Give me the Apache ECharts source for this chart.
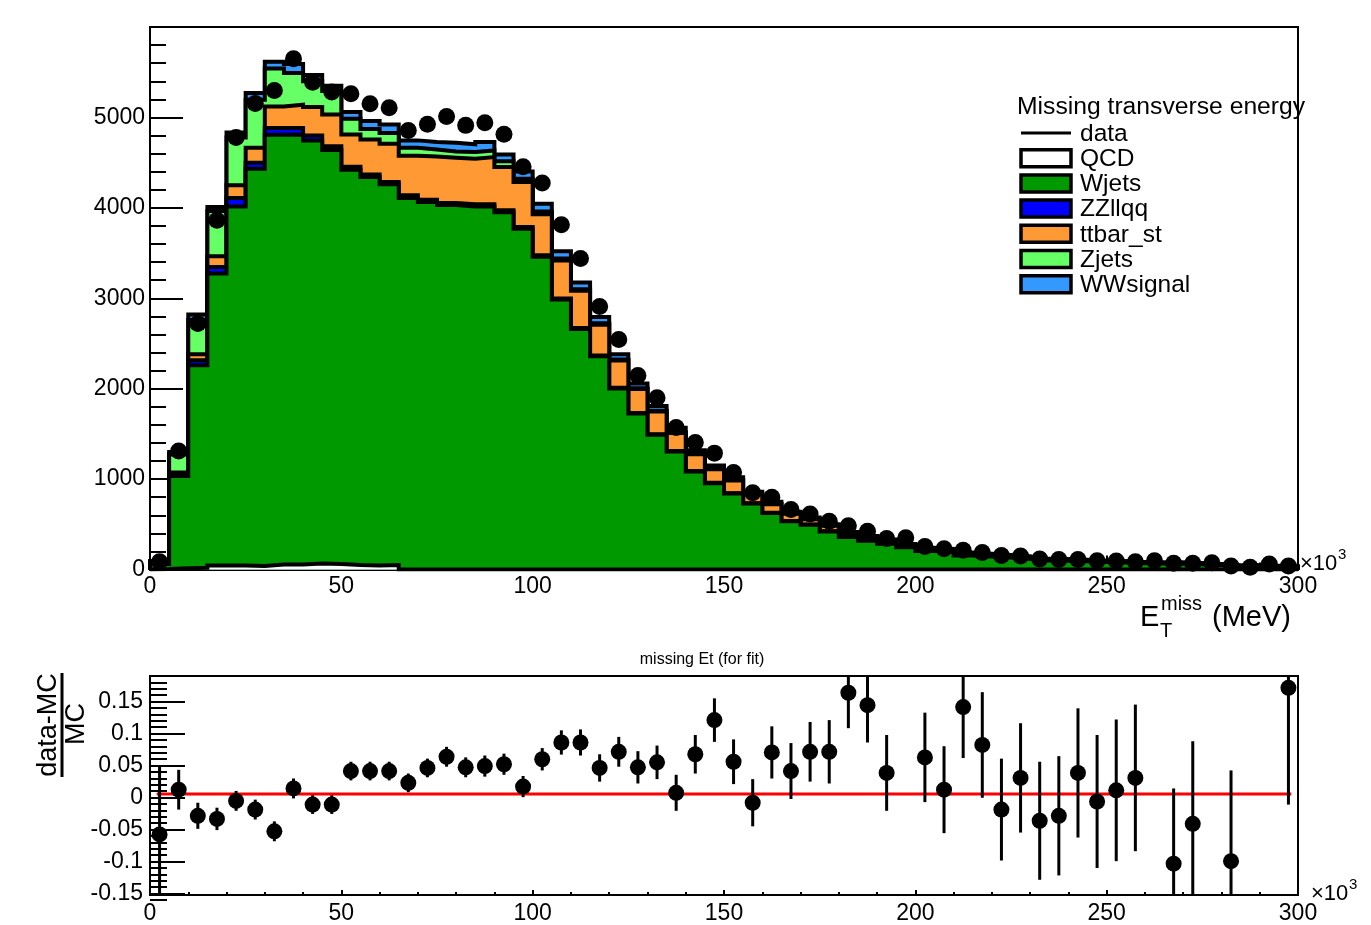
<!DOCTYPE html>
<html><head><meta charset="utf-8">
<script src="https://cdn.jsdelivr.net/npm/echarts@6/dist/echarts.min.js"></script>
<style>html,body{margin:0;padding:0;background:#fff}#c{width:1371px;height:925px}</style>
</head><body><div id="c"></div><script>
// ---- data ----
const binLow = [0,5,10,15,20,25,30,35,40,45,50,55,60,65,70,75,80,85,90,95,100,105,110,115,120,125,130,135,140,145,150,155,160,165,170,175,180,185,190,195,200,205,210,215,220,225,230,235,240,245,250,255,260,265,270,275,280,285,290,295];
const binWidth = 5;
const qcd = [5,15,20,45,45,40,55,55,65,60,50,45,50,0,0,0,0,0,0,0,0,0,0,0,0,0,0,0,0,0,0,0,0,0,0,0,0,0,0,0,0,0,0,0,0,0,0,0,0,0,0,0,0,0,0,0,0,0,0,0];
const wjets = [55,1018,2240,3228,3971,4393,4754,4757,4681,4580,4370,4295,4210,4110,4065,4030,4015,4015,3950,3770,3460,2985,2660,2358,2003,1725,1490,1305,1085,955,840,730,625,535,495,420,360,318,285,245,205,195,155,145,133,120,100,96,90,82,77,70,65,64,59,50,36,37,35,27];
const zzllqq = [2,15,55,73,93,66,73,70,55,40,35,30,25,28,25,23,24,24,22,18,15,12,12,10,8,7,6,5,4,4,3,3,2,2,2,2,1,1,1,1,1,1,1,1,1,1,0,0,0,0,0,0,0,0,0,0,0,0,0,0];
const ttbarSt = [3,25,66,118,140,166,239,258,313,353,357,387,424,439,479,502,504,522,479,497,455,420,410,340,300,263,252,200,185,150,140,100,95,80,60,62,40,38,35,25,25,24,25,22,20,19,15,15,13,12,11,10,10,10,9,8,6,6,5,4];
const zjets = [25,200,378,500,530,530,420,350,286,260,173,114,118,88,77,69,74,74,63,37,30,22,18,15,12,10,8,7,6,5,5,4,4,3,3,2,2,2,2,2,1,1,1,1,1,1,1,1,1,1,1,1,1,1,1,0,0,0,0,0];
const wwsignal = [2,27,60,46,55,74,74,100,68,57,74,89,96,81,81,96,85,92,77,81,86,80,73,71,58,52,51,50,40,35,32,23,24,20,15,14,12,11,9,9,8,7,6,6,5,4,4,3,3,3,3,3,2,2,2,2,2,2,2,2];
const dataCounts = [86,1310,2720,3862,4779,5155,5298,5649,5390,5280,5262,5151,5107,4856,4925,5011,4912,4940,4815,4455,4274,3814,3439,2910,2545,2145,1900,1570,1405,1287,1073,848,800,664,614,534,483,423,343,351,254,230,214,189,156,149,115,111,111,97,93,86,97,68,68,75,39,24,60,39];
const ratio = [-0.065,0.007,-0.035,-0.040,-0.011,-0.025,-0.060,0.009,-0.017,-0.017,0.037,0.037,0.037,0.018,0.042,0.060,0.043,0.045,0.048,0.012,0.056,0.083,0.083,0.042,0.068,0.043,0.051,0.002,0.064,0.119,0.052,-0.014,0.067,0.037,0.068,0.068,0.163,0.143,0.034,0.245,0.059,0.007,0.140,0.079,-0.025,0.026,-0.043,-0.035,0.034,-0.012,0.006,0.026,0.24,-0.112,-0.048,0.25,-0.108,-0.47,0.43,0.171];
const ratioErr = [0.11,0.032,0.021,0.018,0.016,0.016,0.016,0.016,0.015,0.015,0.015,0.015,0.015,0.015,0.015,0.016,0.016,0.017,0.017,0.017,0.018,0.0195,0.021,0.022,0.024,0.026,0.027,0.029,0.031,0.035,0.036,0.038,0.042,0.045,0.048,0.051,0.057,0.060,0.061,0.065,0.072,0.070,0.082,0.085,0.082,0.088,0.095,0.096,0.104,0.107,0.114,0.118,0.12,0.121,0.133,0.14,0.146,0.16,0.17,0.188];
const stackNames = ['QCD','Wjets','ZZllqq','ttbar_st','Zjets','WWsignal'];
const stackColors = ['#ffffff','#009900','#0000ff','#ff9933','#66ff66','#3399ff'];
const legendLabels = ['data','QCD','Wjets','ZZllqq','ttbar_st','Zjets','WWsignal'];
const topYTicks = {min:0, max:6000, step:1000};
const ratioRange = {min:-0.1625, max:0.19};
const ratioMajor = {min:-0.15, max:0.15, step:0.05};
const ratioMinor = {min:-0.16, max:0.19, step:0.01};

// ---- build ----
const FONT = 'Liberation Sans, Arial, Helvetica, sans-serif';
const comps = [qcd, wjets, zzllqq, ttbarSt, zjets, wwsignal];
const cum = comps.map((c,k)=>binLow.map((_,i)=>{let s=0;for(let j=0;j<=k;j++)s+=comps[j][i];return s;}));
const xMax = binLow[binLow.length-1]+binWidth;
function stepData(arr){
  const d=[[binLow[0],0]];
  binLow.forEach((x,i)=>d.push([x,arr[i]]));
  d.push([xMax,arr[arr.length-1]]); d.push([xMax,0]);
  return d;
}
const series=[];
for(let k=comps.length-1;k>=0;k--){
  series.push({type:'line',name:stackNames[k],xAxisIndex:0,yAxisIndex:0,step:'end',symbol:'none',
    data:stepData(cum[k]),lineStyle:{color:'#000',width:4,join:'miter'},
    areaStyle:{color:stackColors[k],opacity:1},z:2+(comps.length-1-k),silent:true,animation:false});
}
series.push({type:'scatter',name:'data',xAxisIndex:0,yAxisIndex:0,symbol:'circle',symbolSize:17,
  itemStyle:{color:'#000',opacity:1},data:binLow.map((x,i)=>[x+binWidth/2,dataCounts[i]]),z:20,animation:false,silent:true});
// ratio panel
series.push({type:'line',xAxisIndex:1,yAxisIndex:1,symbol:'none',data:[[1.75,0],[298.25,0]],
  lineStyle:{color:'#ff0000',width:3},z:3,animation:false,silent:true});
series.push({type:'custom',xAxisIndex:1,yAxisIndex:1,z:10,animation:false,silent:true,
  data:binLow.map((x,i)=>[x+binWidth/2,ratio[i],ratioErr[i]]),
  encode:{x:0,y:1},
  renderItem:function(params,api){
    const x=api.value(0), r=api.value(1), e=api.value(2);
    if(r<ratioRange.min||r>ratioRange.max) return null;
    const lo=Math.max(r-e,ratioRange.min), hi=Math.min(r+e,ratioRange.max);
    const p=api.coord([x,r]), pl=api.coord([x,lo]), ph=api.coord([x,hi]);
    return {type:'group',children:[
      {type:'line',shape:{x1:p[0],y1:pl[1],x2:p[0],y2:ph[1]},style:{stroke:'#000',lineWidth:3}},
      {type:'circle',shape:{cx:p[0],cy:p[1],r:8},style:{fill:'#000'}}
    ]};
  }});

// layout
const L=150, W=1148;
const g0={left:L,top:27,width:W,height:542.5};
const pxPerUnit=640;
const g1top=676;
const g1={left:L,top:g1top,width:W,height:(ratioRange.max-ratioRange.min)*pxPerUnit};
const g2={left:L,top:g1top+(ratioRange.max-ratioMinor.max)*pxPerUnit,width:W,height:(ratioMinor.max-ratioMinor.min)*pxPerUnit};
const g3={left:L,top:g1top+(ratioRange.max-ratioMajor.max)*pxPerUnit,width:W,height:(ratioMajor.max-ratioMajor.min)*pxPerUnit};
const blk={color:'#000',width:2};
function xAx(gi,tickLen,minorLen,margin){
  return {gridIndex:gi,type:'value',min:0,max:xMax,interval:50,
    axisLine:{show:true,onZero:false,lineStyle:blk},
    axisTick:{show:true,inside:true,length:tickLen,lineStyle:blk},
    minorTick:{show:true,splitNumber:5,length:minorLen,lineStyle:blk},
    splitLine:{show:false},minorSplitLine:{show:false},
    axisLabel:{fontSize:23,color:'#000',margin:margin,fontFamily:FONT,formatter:v=>String(v)}};
}
const option={
  backgroundColor:'#fff',
  textStyle:{fontFamily:FONT},
  animation:false,
  grid:[
    Object.assign({show:true,borderColor:'#000',borderWidth:2,backgroundColor:'transparent'},g0),
    Object.assign({show:true,borderColor:'#000',borderWidth:2,backgroundColor:'transparent'},g1),
    Object.assign({show:false},g2),
    Object.assign({show:false},g3)
  ],
  xAxis:[xAx(0,14,7,6),xAx(1,5,3,7),
    {gridIndex:2,type:'value',min:0,max:xMax,show:false},
    {gridIndex:3,type:'value',min:0,max:xMax,show:false}],
  yAxis:[
    {gridIndex:0,type:'value',min:topYTicks.min,max:topYTicks.max,interval:topYTicks.step,
      axisLine:{show:true,lineStyle:blk},
      axisTick:{show:true,inside:true,length:33,lineStyle:blk},
      minorTick:{show:true,splitNumber:5,length:16,lineStyle:blk},
      splitLine:{show:false},
      axisLabel:{fontSize:23,color:'#000',margin:5,fontFamily:FONT,showMaxLabel:false,formatter:v=>String(v)}},
    {gridIndex:1,type:'value',min:ratioRange.min,max:ratioRange.max,
      axisLine:{show:true,lineStyle:blk},axisTick:{show:false},axisLabel:{show:false},splitLine:{show:false}},
    {gridIndex:2,type:'value',min:ratioMinor.min,max:ratioMinor.max,interval:ratioMinor.step,
      axisLine:{show:false},axisTick:{show:true,inside:true,length:17,lineStyle:blk},
      axisLabel:{show:false},splitLine:{show:false}},
    {gridIndex:3,type:'value',min:ratioMajor.min,max:ratioMajor.max,interval:ratioMajor.step,
      axisLine:{show:false},axisTick:{show:true,inside:true,length:35,lineStyle:blk},
      splitLine:{show:false},
      axisLabel:{fontSize:23,color:'#000',margin:7,fontFamily:FONT,
        formatter:v=>{const t=+(+v).toFixed(3);return t===0?'0':String(t);}}}
  ],
  series:series,
  graphic:[]
};
// legend
const gr=option.graphic;
const legX=1021, legTextX=1080, legY0=133, legDy=25.2;
gr.push({type:'text',x:1017,y:107,style:{text:'Missing transverse energy',fontSize:24.7,fontFamily:FONT,fill:'#000',verticalAlign:'middle'},z:50});
legendLabels.forEach((lab,i)=>{
  const y=legY0+i*legDy;
  if(i===0){
    gr.push({type:'line',shape:{x1:legX,y1:y,x2:legX+50,y2:y},style:{stroke:'#000',lineWidth:3},z:50});
  } else {
    gr.push({type:'rect',shape:{x:legX,y:y-8.5,width:50,height:17},style:{fill:stackColors[i-1],stroke:'#000',lineWidth:3.5},z:50});
  }
  gr.push({type:'text',x:legTextX,y:y+1,style:{text:lab,fontSize:24.5,fontFamily:FONT,fill:'#000',verticalAlign:'middle'},z:50});
});
// x10^3 labels
function times10(x,y){
  gr.push({type:'text',x:x,y:y,style:{text:'\u00d710',fontSize:22,fontFamily:FONT,fill:'#000',verticalAlign:'middle'},z:50});
  gr.push({type:'text',x:x+38,y:y-9,style:{text:'3',fontSize:15,fontFamily:FONT,fill:'#000',verticalAlign:'middle'},z:50});
}
times10(1300,564); times10(1311,894);
// x-axis title of top panel
gr.push({type:'text',x:1140,y:618,style:{text:'E',fontSize:29,fontFamily:FONT,fill:'#000',verticalAlign:'middle'},z:50});
gr.push({type:'text',x:1161,y:604,style:{text:'miss',fontSize:20,fontFamily:FONT,fill:'#000',verticalAlign:'middle'},z:50});
gr.push({type:'text',x:1160,y:631,style:{text:'T',fontSize:20,fontFamily:FONT,fill:'#000',verticalAlign:'middle'},z:50});
gr.push({type:'text',x:1212,y:618,style:{text:'(MeV)',fontSize:29,fontFamily:FONT,fill:'#000',verticalAlign:'middle'},z:50});
// ratio y title
gr.push({type:'text',x:49,y:725,rotation:Math.PI/2,style:{text:'data-MC',fontSize:27,fontFamily:FONT,fill:'#000',align:'center',verticalAlign:'middle'},z:50});
gr.push({type:'text',x:77,y:724,rotation:Math.PI/2,style:{text:'MC',fontSize:27,fontFamily:FONT,fill:'#000',align:'center',verticalAlign:'middle'},z:50});
gr.push({type:'line',shape:{x1:62,y1:673,x2:62,y2:777},style:{stroke:'#000',lineWidth:3},z:50});
// ratio title
gr.push({type:'text',x:702,y:660,style:{text:'missing Et (for fit)',fontSize:16,fontFamily:FONT,fill:'#000',align:'center',verticalAlign:'middle'},z:50});

const chart=echarts.init(document.getElementById('c'),null,{renderer:'canvas'});
chart.setOption(option);
</script></body></html>
